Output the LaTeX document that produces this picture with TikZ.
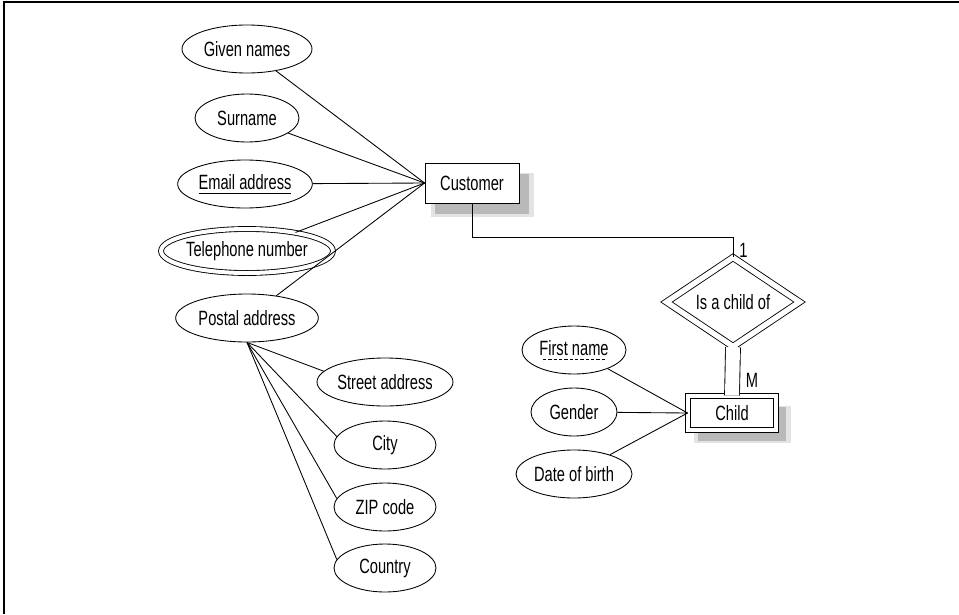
\documentclass[tikz,border=0pt]{standalone}
\usepackage{fontspec}
\setmainfont{Liberation Sans}[FakeStretch=0.71]
\usepackage{tikz}
\usetikzlibrary{positioning, shapes.geometric, shadows}
\newcommand\solidul[1]{\setbox0\hbox{#1}\rlap{\raisebox{-2.8pt}{\vrule height 0.6pt depth 0pt width \wd0}}\box0}
\newcommand\dashul[1]{\setbox0\hbox{#1}\rlap{\raisebox{-2.8pt}{\hbox to \wd0{\cleaders\hbox to 4pt{\hss\vrule height 0.6pt depth 0pt width 2.4pt\hss}\hfill}}}\box0}

\begin{document}
\begin{tikzpicture}[x=0.75pt, y=-0.75pt, line width=0.65pt,
    font=\fontsize{15.5}{17}\selectfont,
    attr/.style={ellipse, draw, fill=white, inner sep=0pt, minimum width=76.5pt, minimum height=36pt},
    softshadow/.style={drop shadow={shadow xshift=7pt, shadow yshift=-8pt, shadow scale=1.1, fill=gray!22, opacity=1},
                       drop shadow={shadow xshift=7.5pt, shadow yshift=-8.5pt, fill=gray!55, opacity=1}},
    entity/.style={rectangle, draw, fill=white, softshadow, minimum width=70.5pt, minimum height=30pt},
    weakentity/.style={rectangle, draw, fill=white, softshadow, double, double distance=3.5pt, minimum width=66pt, minimum height=25.5pt},
    weakrel/.style={diamond, draw, fill=white, double, double distance=4pt, inner sep=0pt, minimum width=100pt, minimum height=52.5pt}]
    \useasboundingbox (0,0) rectangle (959,614);
    \draw[line width=1pt] (4,614) -- (4,2) -- (959,2);

    % Nodes
    \node[attr, minimum width=97.5pt] (gname) at (247,49) {Given names};
    \node[attr, minimum width=78pt] (sname) at (247,118) {Surname};
    \node[attr, minimum width=101pt] (email) at (245,184) {\solidul{Email address}};
    \node[attr, double, double distance=3pt, minimum width=122pt, minimum height=33pt] (phone) at (247,251) {Telephone number};
    \node[attr, minimum width=107pt] (postal) at (247,318) {Postal address};

    \node[attr, minimum width=102pt] (street) at (385,382) {Street address};
    \node[attr] (city) at (385,445) {City};
    \node[attr] (zip) at (385,507) {ZIP code};
    \node[attr] (country) at (385,568) {Country};

    \node[entity] (cust) at (472,183) {Customer};
    \node[weakrel] (rel) at (733,302) {Is a child of};
    \node[weakentity] (child) at (732,413) {Child};

    \node[attr, minimum width=78pt] (fname) at (574,350) {\dashul{First name}};
    \node[attr, minimum width=64.5pt] (gender) at (574,412) {Gender};
    \node[attr, minimum width=87pt] (dob) at (574,474) {Date of birth};

    \node[anchor=west, inner sep=0pt] (one) at (739,250) {1};
    \node[inner sep=0pt] (many) at (752,380) {M};
    \coordinate (bend) at (733,237);

    % Edges for the customer attributes
    \draw (gname) -- (cust.west);
    \draw (sname) -- (cust.west);
    \draw (email) -- (cust.west);
    \draw (phone) -- (cust.west);
    \draw (postal) -- (cust.west);

    % Edges for the composite address
    \draw (postal.south) -- (street.170);
    \draw (postal.south) -- (city.170);
    \draw (postal.south) -- (zip.170);
    \draw (postal.south) -- (country.170);

    % Relationship
    \draw (cust.south) |- (bend) -- (rel.north);
    \draw[double, double distance=10.5pt] (rel.south) -- (child.north);

    % Edges for the child attributes
    \draw (fname) -- (child.west);
    \draw (gender) -- (child.west);
    \draw (dob) -- (child.west);
\end{tikzpicture}
\end{document}
